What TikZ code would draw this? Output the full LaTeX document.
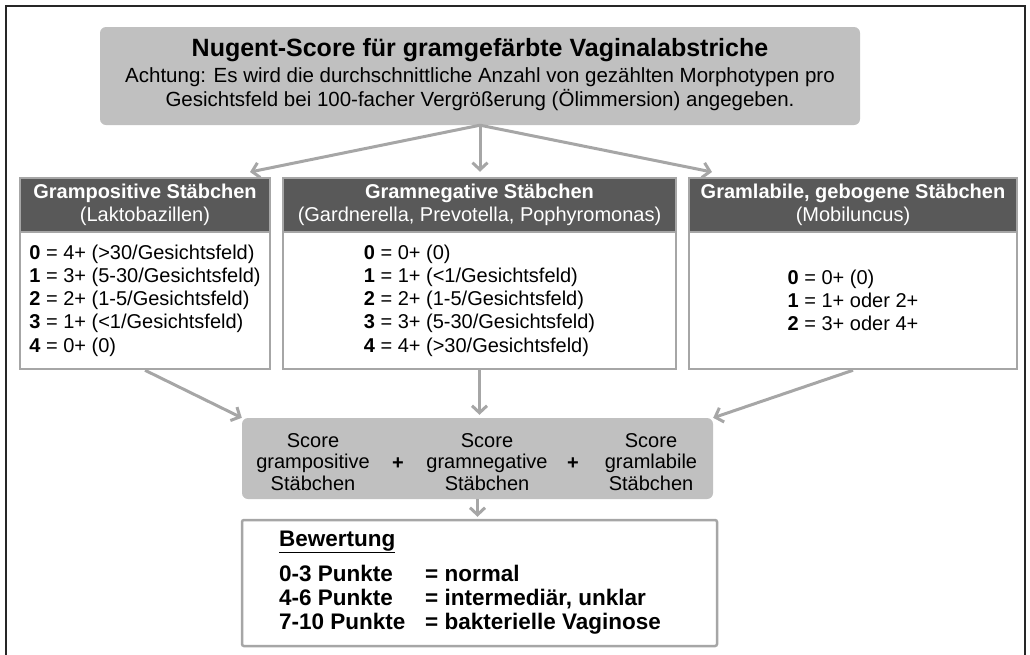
\documentclass[tikz,border=0pt]{standalone}
\usepackage{fontspec}
\setmainfont{Liberation Sans}
\usetikzlibrary{arrows.meta}

\definecolor{HD}{HTML}{595959}
\definecolor{GB}{HTML}{C0C0C0}
\definecolor{LN}{HTML}{A6A6A6}
\definecolor{FR}{HTML}{262626}

\begin{document}
\begin{tikzpicture}[x=1pt, y=-1pt,
    every node/.style={inner sep=0pt, font=\fontsize{20}{23.3}\selectfont},
    greybox/.style={fill=GB, rounded corners=6pt},
    head/.style={draw=LN, line width=2.5pt, fill=HD, text=white, align=center, minimum height=54pt},
    body/.style={draw=LN, line width=2.5pt, fill=white, align=left, minimum height=137pt},
    rate/.style={anchor=base west, font=\fontsize{22.5}{26}\selectfont\bfseries},
    link/.style={LN, line width=3pt, -{Straight Barb[length=7pt,width=15pt]}}]
    \useasboundingbox (0,0) rectangle (1030,654);
    \draw[FR, line width=2.5pt] (6,670) -- (6,6) -- (1025,6) -- (1025,670);
    % title
    \node[greybox, minimum width=760pt, minimum height=98pt] (T) at (480,76) {};
    \node[font=\fontsize{25}{29}\selectfont\bfseries] (T1) at (480,50) {Nugent-Score für gramgefärbte Vaginalabstriche};
    \node[align=center, font=\fontsize{20.5}{23.5}\selectfont] (T2) at (480,89) {Achtung: Es wird die durchschnittliche Anzahl von gezählten Morphotypen pro\\Gesichtsfeld bei 100-facher Vergrößerung (Ölimmersion) angegeben.};
    % three groups
    \node[head, minimum width=250pt] (H1) at (145,205) {\textbf{Grampositive Stäbchen}\\(Laktobazillen)};
    \node[head, minimum width=393pt] (H2) at (479.5,205) {\textbf{Gramnegative Stäbchen}\\(Gardnerella, Prevotella, Pophyromonas)};
    \node[head, minimum width=328pt] (H3) at (853,205) {\textbf{Gramlabile, gebogene Stäbchen}\\(Mobiluncus)};
    \node[body, minimum width=250pt] (B1) at (145,300.5) {\textbf{0} = 4+ (>30/Gesichtsfeld)\\\textbf{1} = 3+ (5-30/Gesichtsfeld)\\\textbf{2} = 2+ (1-5/Gesichtsfeld)\\\textbf{3} = 1+ (<1/Gesichtsfeld)\\\textbf{4} = 0+ (0)};
    \node[body, minimum width=393pt] (B2) at (479.5,300.5) {\textbf{0} = 0+ (0)\\\textbf{1} = 1+ (<1/Gesichtsfeld)\\\textbf{2} = 2+ (1-5/Gesichtsfeld)\\\textbf{3} = 3+ (5-30/Gesichtsfeld)\\\textbf{4} = 4+ (>30/Gesichtsfeld)};
    \node[body, minimum width=328pt] (B3) at (853,300.5) {\textbf{0} = 0+ (0)\\\textbf{1} = 1+ oder 2+\\\textbf{2} = 3+ oder 4+};
    % sum of scores
    \node[greybox, minimum width=471pt, minimum height=81pt] (S) at (477.5,458.5) {};
    \node[align=center, font=\fontsize{20}{21.5}\selectfont] (S1) at (313,462) {Score\\grampositive\\Stäbchen};
    \node[font=\fontsize{20}{21.5}\selectfont\bfseries] (P1) at (398,464) {+};
    \node[align=center, font=\fontsize{20}{21.5}\selectfont] (S2) at (487,462) {Score\\gramnegative\\Stäbchen};
    \node[font=\fontsize{20}{21.5}\selectfont\bfseries] (P2) at (573,464) {+};
    \node[align=center, font=\fontsize{20}{21.5}\selectfont] (S3) at (651,462) {Score\\gramlabile\\Stäbchen};
    % rating
    \node[draw=LN, line width=2.5pt, fill=white, rounded corners=2pt, minimum width=475pt, minimum height=126pt] (E) at (479.5,583) {};
    \node[rate] (E0) at (279,546) {\underline{Bewertung}};
    \node[rate] (E1) at (279,581) {0-3 Punkte};
    \node[rate] (E2) at (279,605) {4-6 Punkte};
    \node[rate] (E3) at (279,629) {7-10 Punkte};
    \node[rate] (R1) at (425,581) {= normal};
    \node[rate] (R2) at (425,605) {= intermediär, unklar};
    \node[rate] (R3) at (425,629) {= bakterielle Vaginose};
    % arrows
    \coordinate (a1) at (250,172);
    \coordinate (a3) at (712,172);
    \draw[link] (T.south) -- (a1);
    \draw[link, shorten >=5pt] (T.south) -- (T.south |- H2.north);
    \draw[link] (T.south) -- (a3);
    \draw[link] (B1.south) -- (S.north west);
    \draw[link, shorten >=3pt] (B2.south) -- (B2.south |- S.north);
    \draw[link] (B3.south) -- (S.north east);
    \draw[link, shorten >=2pt] (S.south) -- (S.south |- E.north);
\end{tikzpicture}
\end{document}
